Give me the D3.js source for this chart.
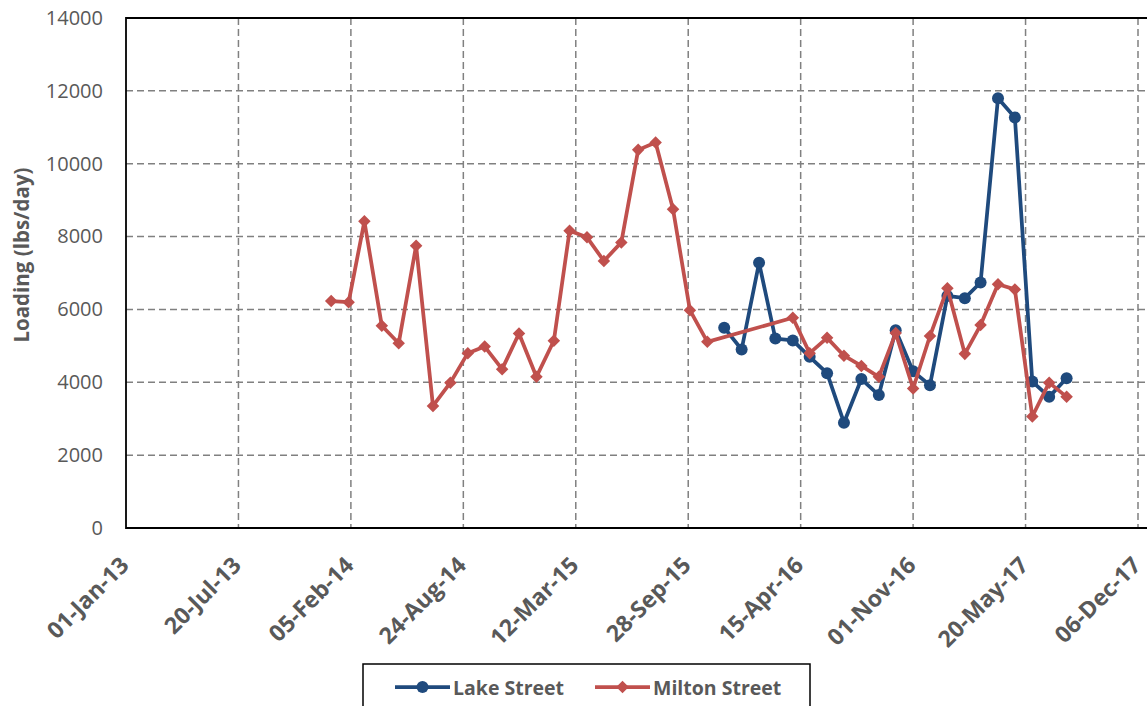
<!DOCTYPE html>
<html>
<head>
<meta charset="utf-8">
<script src="https://cdn.jsdelivr.net/npm/d3@7/dist/d3.min.js"></script>
<style>
  html, body { margin: 0; padding: 0; background: #fff; }
  svg { display: block; }
  text { font-family: "Open Sans", "Lato", sans-serif; }
</style>
</head>
<body>
<svg id="chart" width="1147" height="706"></svg>
<script>
// Monthly loading samples (lbs/day)
const lakeDates = [
  "2015-12-01", "2016-01-01", "2016-02-01", "2016-03-01", "2016-04-01", "2016-05-01",
  "2016-06-01", "2016-07-01", "2016-08-01", "2016-09-01", "2016-10-01", "2016-11-01",
  "2016-12-01", "2017-01-01", "2017-02-01", "2017-03-01", "2017-04-01", "2017-05-01",
  "2017-06-01", "2017-07-01", "2017-08-01"
];
const lakeValues = [
  5500, 4900, 7280, 5200, 5150, 4700,
  4250, 2890, 4090, 3650, 5430, 4300,
  3920, 6370, 6310, 6740, 11800, 11270,
  4020, 3600, 4110
];

const miltonDates = [
  "2014-01-01", "2014-02-01", "2014-03-01", "2014-04-01", "2014-05-01", "2014-06-01",
  "2014-07-01", "2014-08-01", "2014-09-01", "2014-10-01", "2014-11-01", "2014-12-01",
  "2015-01-01", "2015-02-01", "2015-03-01", "2015-04-01", "2015-05-01", "2015-06-01",
  "2015-07-01", "2015-08-01", "2015-09-01", "2015-10-01", "2015-11-01",
  "2016-04-01", "2016-05-01", "2016-06-01", "2016-07-01", "2016-08-01", "2016-09-01",
  "2016-10-01", "2016-11-01", "2016-12-01", "2017-01-01", "2017-02-01", "2017-03-01",
  "2017-04-01", "2017-05-01", "2017-06-01", "2017-07-01", "2017-08-01"
];
const miltonValues = [
  6230, 6200, 8420, 5550, 5070, 7750,
  3350, 3990, 4800, 4980, 4360, 5340,
  4150, 5140, 8160, 7980, 7330, 7840,
  10380, 10580, 8750, 5980, 5110,
  5770, 4800, 5220, 4730, 4450, 4150,
  5350, 3830, 5270, 6580, 4780, 5570,
  6690, 6550, 3060, 3990, 3600
];

// Axis ticks: every 200 days starting 01-Jan-13
const xTickDates = [
  "2013-01-01", "2013-07-20", "2014-02-05", "2014-08-24", "2015-03-12",
  "2015-09-28", "2016-04-15", "2016-11-01", "2017-05-20", "2017-12-06"
];
const yTickValues = [0, 2000, 4000, 6000, 8000, 10000, 12000, 14000];

const seriesNames = ["Lake Street", "Milton Street"];
const seriesColors = ["#1F4A7D", "#C0504D"];

const parse = d3.utcParse("%Y-%m-%d");
const fmt = d3.utcFormat("%d-%b-%y");

const svg = d3.select("#chart");
const plotLeft = 126, plotRight = 1147, plotTop = 18, plotBottom = 528;

const x = d3.scaleUtc()
  .domain([parse(xTickDates[0]), parse(xTickDates[xTickDates.length - 1])])
  .range([plotLeft, 1138]);
const y = d3.scaleLinear().domain([0, 14000]).range([plotBottom, plotTop]);

const gridColor = "#808080";
const textColor = "#595959";

// Horizontal gridlines
svg.append("g")
  .selectAll("line")
  .data(yTickValues.filter(v => v > 0 && v < 14000))
  .join("line")
  .attr("x1", plotLeft).attr("x2", plotRight)
  .attr("y1", d => y(d)).attr("y2", d => y(d))
  .attr("stroke", gridColor)
  .attr("stroke-width", 1.5)
  .attr("stroke-dasharray", "7,4");

// Vertical gridlines
svg.append("g")
  .selectAll("line")
  .data(xTickDates.slice(1))
  .join("line")
  .attr("x1", d => x(parse(d))).attr("x2", d => x(parse(d)))
  .attr("y1", plotTop).attr("y2", plotBottom)
  .attr("stroke", gridColor)
  .attr("stroke-width", 1.5)
  .attr("stroke-dasharray", "7,4");

// Frame: top, left, bottom
svg.append("path")
  .attr("d", `M${plotRight},${plotTop}H${plotLeft}V${plotBottom}H${plotRight}`)
  .attr("fill", "none")
  .attr("stroke", "#000")
  .attr("stroke-width", 1.8);

// Y axis labels
const yAxis = d3.axisLeft(y).tickValues(yTickValues).tickFormat(d3.format("d")).tickSize(0).tickPadding(0);
const yg = svg.append("g").attr("transform", `translate(103,0)`).call(yAxis);
yg.select(".domain").remove();
yg.selectAll("text")
  .attr("x", 0)
  .attr("font-size", 20)
  .attr("font-family", "'Open Sans', sans-serif")
  .attr("fill", textColor);

// X axis labels, rotated 45 degrees with their ends at the ticks
const xAxis = d3.axisBottom(x).tickValues(xTickDates.map(parse)).tickFormat(fmt).tickSize(0);
const xg = svg.append("g").attr("transform", `translate(0,${plotBottom})`).call(xAxis);
xg.select(".domain").remove();
xg.selectAll("text")
  .attr("font-size", 23)
  .attr("font-weight", "bold")
  .attr("font-family", "'Open Sans', sans-serif")
  .attr("fill", textColor)
  .attr("text-anchor", "end")
  .attr("x", 0)
  .attr("y", 0)
  .attr("dy", "0.35em")
  .attr("transform", "translate(-2,33) rotate(-45)");

// Y axis title
svg.append("text")
  .attr("transform", "translate(29,255) rotate(-90)")
  .attr("text-anchor", "middle")
  .attr("font-size", 20.5)
  .attr("font-weight", "bold")
  .attr("fill", textColor)
  .text("Loading (lbs/day)");

// Series
const lakeData = lakeDates.map((d, i) => ({ date: parse(d), value: lakeValues[i] }));
const miltonData = miltonDates.map((d, i) => ({ date: parse(d), value: miltonValues[i] }));

const line = d3.line().x(d => x(d.date)).y(d => y(d.value));

svg.append("path")
  .datum(lakeData)
  .attr("d", line)
  .attr("fill", "none")
  .attr("stroke", seriesColors[0])
  .attr("stroke-width", 3.75)
  .attr("stroke-linejoin", "round");
svg.append("g")
  .selectAll("circle")
  .data(lakeData)
  .join("circle")
  .attr("cx", d => x(d.date))
  .attr("cy", d => y(d.value))
  .attr("r", 6)
  .attr("fill", seriesColors[0]);

svg.append("path")
  .datum(miltonData)
  .attr("d", line)
  .attr("fill", "none")
  .attr("stroke", seriesColors[1])
  .attr("stroke-width", 3.75)
  .attr("stroke-linejoin", "round");
const diamond = d3.symbol().type(d3.symbolDiamond2).size(100);
svg.append("g")
  .selectAll("path")
  .data(miltonData)
  .join("path")
  .attr("d", diamond)
  .attr("transform", d => `translate(${x(d.date)},${y(d.value)})`)
  .attr("fill", seriesColors[1]);

// Legend
const legend = svg.append("g");
legend.append("rect")
  .attr("x", 363).attr("y", 664)
  .attr("width", 447).attr("height", 60)
  .attr("fill", "#fff")
  .attr("stroke", "#000")
  .attr("stroke-width", 1.5);

const legendItems = [
  { name: seriesNames[0], color: seriesColors[0], x0: 395, marker: "circle" },
  { name: seriesNames[1], color: seriesColors[1], x0: 595, marker: "diamond" }
];
legendItems.forEach(it => {
  const ly = 687;
  legend.append("line")
    .attr("x1", it.x0).attr("x2", it.x0 + 55)
    .attr("y1", ly).attr("y2", ly)
    .attr("stroke", it.color)
    .attr("stroke-width", 3.75);
  if (it.marker === "circle") {
    legend.append("circle").attr("cx", it.x0 + 27.5).attr("cy", ly).attr("r", 6).attr("fill", it.color);
  } else {
    legend.append("path").attr("d", diamond)
      .attr("transform", `translate(${it.x0 + 27.5},${ly})`)
      .attr("fill", it.color);
  }
  legend.append("text")
    .attr("x", it.x0 + 58).attr("y", ly + 7.5)
    .attr("font-size", 19.5)
    .attr("font-weight", "bold")
    .attr("fill", textColor)
    .text(it.name);
});
</script>
</body>
</html>
